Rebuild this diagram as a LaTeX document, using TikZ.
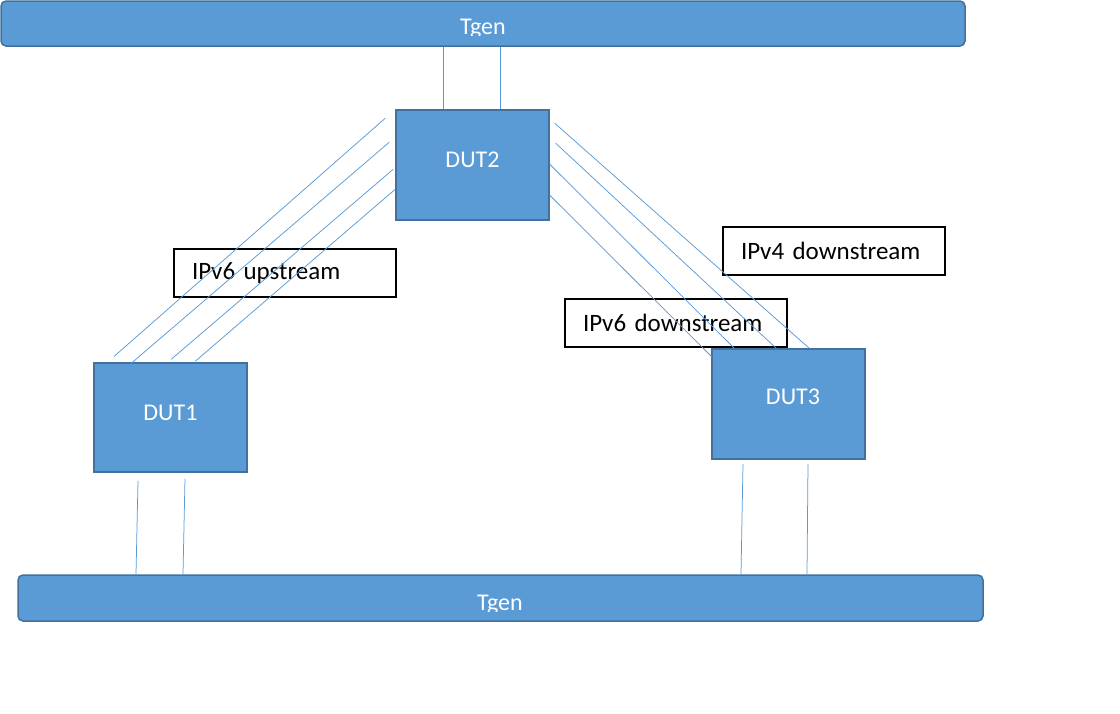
\documentclass[tikz,border=0pt]{standalone}
\usepackage{fontspec}
\setmainfont{Carlito}
\definecolor{fillblue}{HTML}{5B9BD5}
\definecolor{edgeblue}{HTML}{41719C}
\begin{document}
\begin{tikzpicture}[x=1pt,y=-1pt,
  dev/.style={draw=edgeblue, line width=1.5pt, fill=fillblue, text=white, inner sep=0pt,
    minimum width=153pt, minimum height=110pt, font=\fontsize{24}{28}\selectfont},
  bar/.style={draw=edgeblue, line width=1.5pt, fill=fillblue, rounded corners=5pt, inner sep=0pt},
  bartext/.style={text=white, inner sep=0pt, anchor=base, font=\fontsize{24}{28}\selectfont},
  tag/.style={draw=black, line width=1.5pt, inner xsep=18pt, inner ysep=0pt, text width=186pt,
    minimum height=48pt, align=left, font=\fontsize{25}{29}\selectfont},
  link/.style={draw=fillblue, line width=0.75pt}]
\useasboundingbox (0,0) rectangle (1120,713);
\fill[white] (0,0) rectangle (1120,713);

% Tgen bars
\node[bar, minimum width=964pt, minimum height=45pt] (tgentop) at (483,23.5) {};
\node[bar, minimum width=965pt, minimum height=46pt] (tgenbot) at (500.5,598) {};
\begin{scope}
  \clip (0,0) rectangle (1120,35);
  \node[bartext] (toptext) at (483,34.5) {Tgen};
\end{scope}
\begin{scope}
  \clip (0,560) rectangle (1120,611);
  \node[bartext] (bottext) at (500,610.5) {Tgen};
\end{scope}

% devices
\node[dev] (dut2) at (472.5,165) {\raisebox{11pt}{DUT2}};
\node[dev, minimum height=109pt] (dut1) at (170.5,417.5) {\raisebox{9pt}{DUT1}};
\node[dev] (dut3) at (788.5,404) {\hspace*{9pt}\raisebox{14pt}{DUT3}};

% labels
\node[tag] (up6) at (285,273) {IPv6 upstream};
\node[tag] (down4) at (834,251) {IPv4 downstream};
\node[tag] (down6) at (676,323) {IPv6 downstream};

% Tgen top to DUT2
\draw[link] ([xshift=-29.5pt]dut2.north) -- ([xshift=-29.5pt]dut2.north |- tgentop.south);
\draw[link] ([xshift=27.5pt]dut2.north) -- ([xshift=27.5pt]dut2.north |- tgentop.south);

% DUT1 / DUT3 to Tgen bottom
\draw[link] ([shift={(-32.5pt,-8pt)}]dut1.south) -- ([xshift=-34.5pt]dut1.south |- tgenbot.north);
\draw[link] ([shift={(14.5pt,-6pt)}]dut1.south) -- ([xshift=12.5pt]dut1.south |- tgenbot.north);
\draw[link] ([shift={(-45.5pt,-4pt)}]dut3.south) -- ([xshift=-47.5pt]dut3.south |- tgenbot.north);
\draw[link] ([shift={(19.5pt,-4pt)}]dut3.south) -- ([xshift=18.5pt]dut3.south |- tgenbot.north);

% DUT2 to DUT1 (upstream)
\draw[link] ([shift={(-10pt,-9pt)}]dut2.north west) -- ([shift={(21pt,6pt)}]dut1.north west);
\draw[link] ([shift={(-6pt,-33pt)}]dut2.north west) -- ([shift={(38pt,-1pt)}]dut1.north west);
\draw[link] ([shift={(-2pt,-60pt)}]dut2.north west) -- ([shift={(78pt,3pt)}]dut1.north west);
\draw[link] ([shift={(0pt,-80pt)}]dut2.north west) -- ([shift={(102pt,1pt)}]dut1.north west);

% DUT2 to DUT3 (downstream)
\draw[link] ([shift={(5pt,-14pt)}]dut2.north east) -- ([shift={(98pt,0pt)}]dut3.north west);
\draw[link] ([shift={(6pt,-34pt)}]dut2.north east) -- ([shift={(65pt,0pt)}]dut3.north west);
\draw[link] ([shift={(0pt,-55pt)}]dut2.north east) -- ([shift={(23pt,0pt)}]dut3.north west);
\draw[link] ([shift={(0pt,-86pt)}]dut2.north east) -- ([shift={(1pt,-9pt)}]dut3.north west);
\end{tikzpicture}
\end{document}
